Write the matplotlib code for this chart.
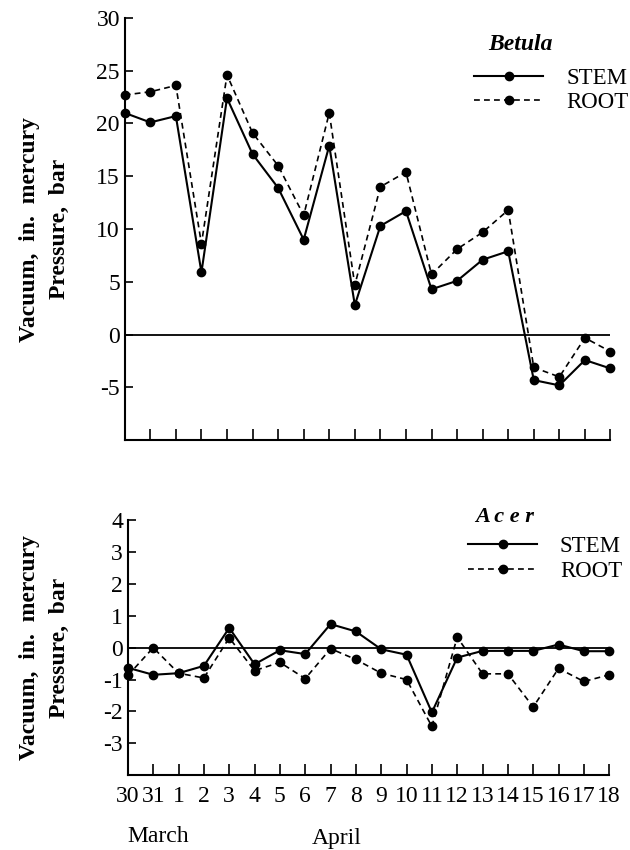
import matplotlib
matplotlib.use("Agg")
import matplotlib.pyplot as plt
from matplotlib.lines import Line2D

plt.rcParams['font.family'] = ['Liberation Serif', 'DejaVu Serif']
plt.rcParams['axes.unicode_minus'] = False

days = ["30", "31", "1", "2", "3", "4", "5", "6", "7", "8", "9",
        "10", "11", "12", "13", "14", "15", "16", "17", "18"]

betula_stem = [21.0, 20.1, 20.7, 5.9, 22.4, 17.1, 13.9, 9.0, 17.9, 2.8,
               10.3, 11.7, 4.3, 5.1, 7.1, 7.9, -4.3, -4.8, -2.4, -3.2]
betula_root = [22.7, 23.0, 23.6, 8.6, 24.6, 19.1, 16.0, 11.3, 21.0, 4.7,
               14.0, 15.4, 5.7, 8.1, 9.7, 11.8, -3.1, -4.0, -0.3, -1.6]

acer_stem = [-0.63, -0.85, -0.8, -0.57, 0.62, -0.52, -0.08, -0.2, 0.74, 0.51,
             -0.05, -0.22, -2.03, -0.31, -0.1, -0.1, -0.1, 0.1, -0.11, -0.11]
acer_root = [-0.87, 0.0, -0.8, -0.95, 0.31, -0.72, -0.46, -0.97, -0.03, -0.37,
             -0.8, -1.0, -2.47, 0.33, -0.82, -0.82, -1.86, -0.65, -1.06, -0.85]

series_names = ["STEM", "ROOT"]
ylabel = "Vacuum,  in.  mercury\nPressure,  bar"

FS = 17
LFS = 16.5
x = list(range(len(betula_stem)))

fig = plt.figure(figsize=(6.3, 8.5), dpi=100)
ax1 = fig.add_axes([0.198, 0.482, 0.771, 0.497])
ax2 = fig.add_axes([0.203, 0.088, 0.764, 0.300])


def style(ax, ylim, yticks):
    ax.set_xlim(0, len(x) - 1)
    ax.set_ylim(*ylim)
    ax.set_yticks(yticks)
    ax.set_xticks(x)
    for s in ["top", "right"]:
        ax.spines[s].set_visible(False)
    for s in ["left", "bottom"]:
        ax.spines[s].set_linewidth(1.5)
    ax.tick_params(direction="in", length=6, width=1.2, labelsize=FS)
    ax.tick_params(axis="x", length=8, pad=8)
    ax.axhline(0, color="black", lw=1.3)
    ax.set_ylabel(ylabel, fontsize=FS, fontweight="bold", linespacing=1.55)


def draw(ax, stem, root):
    ax.plot(x, stem, color="black", lw=1.5, marker="o", ms=6, clip_on=False)
    ax.plot(x, root, color="black", lw=1.2, ls=(0, (3.5, 2.5)),
            marker="o", ms=6, clip_on=False)


handles = [Line2D([], [], color="black", lw=1.5, marker="o", ms=6),
           Line2D([], [], color="black", lw=1.2, ls=(0, (3.5, 2.5)),
                  marker="o", ms=6)]

style(ax1, (-10, 30), [-5, 0, 5, 10, 15, 20, 25, 30])
draw(ax1, betula_stem, betula_root)
ax1.set_xticklabels([])
ax1.yaxis.set_label_coords(-0.113, 0.5)
ax1.text(0.749, 0.936, "Betula", transform=ax1.transAxes, fontsize=FS,
         fontweight="bold", style="italic", va="center")
ax1.legend(handles, series_names, loc="upper left",
           bbox_to_anchor=(0.72, 0.882), frameon=False, fontsize=LFS,
           borderpad=0, borderaxespad=0,
           handlelength=3.0, handletextpad=1.0, labelspacing=0.13)

style(ax2, (-4, 4), [-3, -2, -1, 0, 1, 2, 3, 4])
draw(ax2, acer_stem, acer_root)
ax2.set_xticklabels(days)
ax2.yaxis.set_label_coords(-0.12, 0.5)
ax2.text(0.721, 1.012, "A c e r", transform=ax2.transAxes, fontsize=16,
         fontweight="bold", style="italic", va="center")
ax2.legend(handles, series_names, loc="upper left",
           bbox_to_anchor=(0.707, 0.939), frameon=False, fontsize=LFS,
           borderpad=0, borderaxespad=0,
           handlelength=3.0, handletextpad=1.0, labelspacing=0.17)

fig.text(0.2016, 0.0153, "March", fontsize=FS, va="center")
fig.text(0.495, 0.0141, "April", fontsize=FS, va="center")

fig.savefig("out.png", dpi=100)
